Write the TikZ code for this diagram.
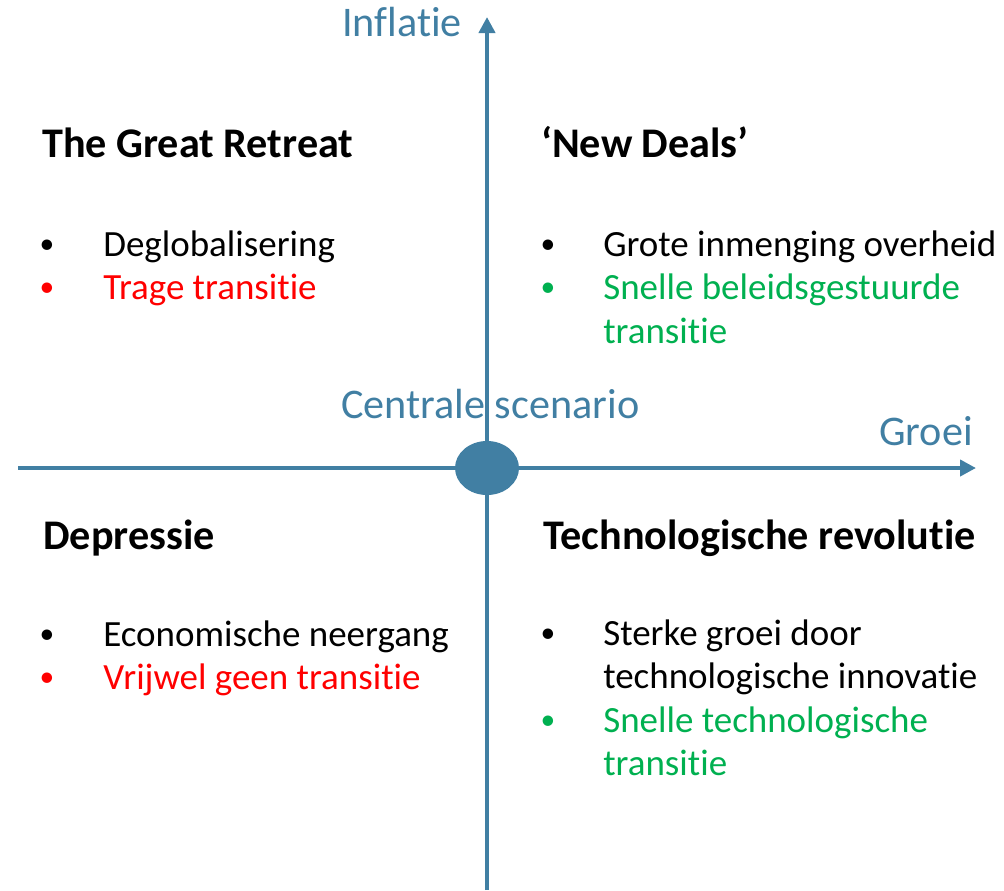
\documentclass[tikz,border=0pt]{standalone}
\usepackage{fontspec}
\setmainfont{Carlito}[Ligatures=NoCommon]
\usepackage{xcolor}
\usepackage{tikz}
\usetikzlibrary{arrows.meta,positioning,shapes.geometric}

\definecolor{axisblue}{RGB}{65,127,163}
\definecolor{slowred}{RGB}{255,0,0}
\definecolor{fastgreen}{RGB}{0,176,80}

\begin{document}
\begin{tikzpicture}[
    x=0.025cm, y=-0.025cm,
    axis/.style={axisblue, line width=0.1cm, -{Triangle[length=0.4cm, width=0.4cm]}},
    axislabel/.style={anchor=base west, inner sep=0pt, text=axisblue, font=\fontsize{30}{36}\selectfont},
    heading/.style={anchor=base west, inner sep=0pt, font=\fontsize{30}{36}\selectfont\bfseries},
    entry/.style={anchor=base west, inner sep=0pt, font=\fontsize{26.3}{31}\selectfont},
    dot/.style={anchor=base, inner sep=0pt, font=\fontsize{21}{25}\selectfont, yshift=1.5pt}
]
    \useasboundingbox (0,0) rectangle (1004,890);

    % Axes
    \coordinate (ybot) at (487,890);
    \coordinate (ytop) at (487,17);
    \coordinate (xleft) at (18,468);
    \coordinate (xright) at (976,468);
    \draw[axis] (ybot) -- (ytop);
    \draw[axis] (xleft) -- (xright);
    \node[ellipse, fill=axisblue, inner sep=0pt, minimum width=1.6cm, minimum height=1.35cm] (centre) at (487,468) {};

    % Axis labels
    \node[axislabel] (inflatie) at (342,36) {Inflatie};
    \node[axislabel] (groei) at (879,445) {Groei};
    \node[axislabel] (centraal) at (341,418) {Centrale scenario};

    % Top left
    \node[heading] (retreat) at (42,157) {The Great Retreat};
    \node[dot] (tl1) at (47,256) {•};
    \node[entry] (deglob) at (103,256) {Deglobalisering};
    \node[dot, text=slowred] (tl2) at (47,299) {•};
    \node[entry, text=slowred] (trage) at (103,299) {Trage transitie};

    % Top right
    \node[heading] (newdeals) at (541,157) {‘New Deals’};
    \node[dot] (tr1) at (548,256) {•};
    \node[entry] (overheid) at (603,256) {Grote inmenging overheid};
    \node[dot, text=fastgreen] (tr2) at (548,299) {•};
    \node[entry, text=fastgreen] (beleid) at (603,299) {Snelle beleidsgestuurde};
    \node[entry, text=fastgreen] (beleidb) at (603,343) {transitie};

    % Bottom left
    \node[heading] (depressie) at (43,549) {Depressie};
    \node[dot] (bl1) at (47,646) {•};
    \node[entry] (neergang) at (103,646) {Economische neergang};
    \node[dot, text=slowred] (bl2) at (47,689) {•};
    \node[entry, text=slowred] (geen) at (103,689) {Vrijwel geen transitie};

    % Bottom right
    \node[heading] (revolutie) at (543,549) {Technologische revolutie};
    \node[dot] (br1) at (548,645) {•};
    \node[entry] (sterke) at (603,645) {Sterke groei door};
    \node[entry] (sterkeb) at (603,688) {technologische innovatie};
    \node[dot, text=fastgreen] (br2) at (548,732) {•};
    \node[entry, text=fastgreen] (techno) at (603,732) {Snelle technologische};
    \node[entry, text=fastgreen] (technob) at (603,775) {transitie};

\end{tikzpicture}
\end{document}
